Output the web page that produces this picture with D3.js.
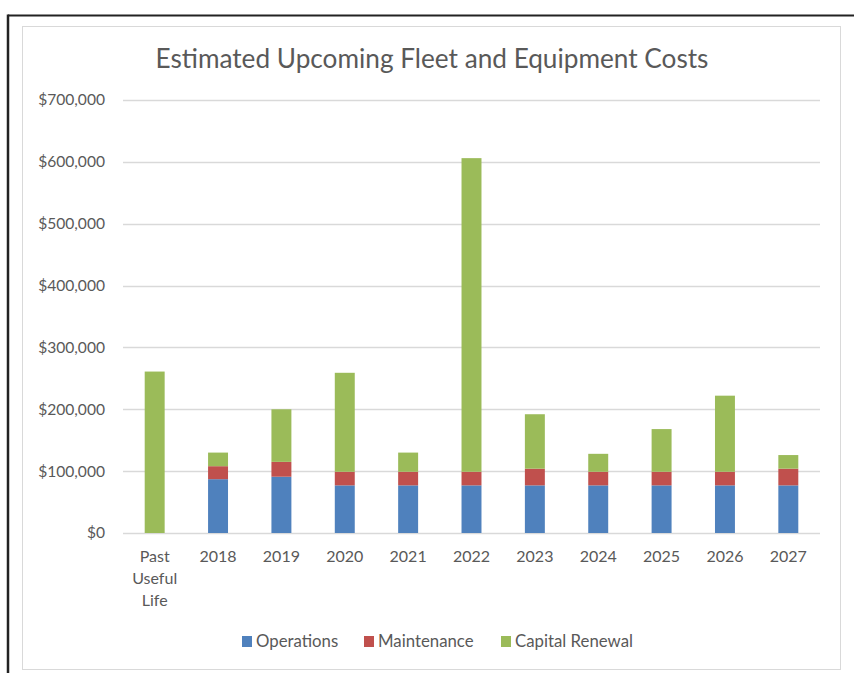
<!DOCTYPE html>
<html><head><meta charset="utf-8">
<script src="https://cdn.jsdelivr.net/npm/d3@7"></script>
<style>body{margin:0;background:#fff;}svg{display:block;}text{font-family:Lato,"Open Sans",sans-serif;}</style>
</head><body>
<script>
const categories = ["Past Useful Life","2018","2019","2020","2021","2022","2023","2024","2025","2026","2027"];
const operations = [0, 87000, 91000, 77000, 77000, 77000, 77000, 77000, 77000, 77000, 77000];
const maintenance = [0, 21000, 24000, 22000, 22000, 22000, 27000, 22000, 22000, 22000, 27000];
const capitalRenewal = [261000, 22000, 85000, 160000, 31000, 507000, 88000, 29000, 69000, 123000, 22000];
const seriesNames = ["Operations","Maintenance","Capital Renewal"];
const seriesColors = ["#4F81BD","#C0504D","#9BBB59"];
const yTicks = [0,100000,200000,300000,400000,500000,600000,700000];
const title = "Estimated Upcoming Fleet and Equipment Costs";

const W = 854, H = 673;
const svg = d3.select("body").append("svg").attr("width", W).attr("height", H);

// outer frame lines
svg.append("line").attr("x1",8).attr("x2",854).attr("y1",15.5).attr("y2",15.5).attr("stroke","#222").attr("stroke-width",2.2);
svg.append("line").attr("x1",8).attr("x2",8).attr("y1",14.5).attr("y2",673).attr("stroke","#222").attr("stroke-width",2.5);
// chart area border
svg.append("rect").attr("x",22.5).attr("y",26.5).attr("width",818).attr("height",643).attr("fill","#fff").attr("stroke","#D9D9D9").attr("stroke-width",1);

const plot = {left:123, right:820, top:100, bottom:533};
const x = d3.scaleBand().domain(categories).range([plot.left, plot.right]).paddingInner(0.685).paddingOuter(0.3425);
const y = d3.scaleLinear().domain([0,700000]).range([plot.bottom, plot.top]);

// gridlines
svg.append("g").selectAll("line").data(yTicks).join("line")
  .attr("x1",plot.left).attr("x2",plot.right)
  .attr("y1",d=>Math.round(y(d))+0.5).attr("y2",d=>Math.round(y(d))+0.5)
  .attr("stroke","#D9D9D9").attr("stroke-width",1.3);

// y labels
const fmt = d3.format("$,");
svg.append("g").selectAll("text").data(yTicks).join("text")
  .attr("x",105).attr("y",d=>y(d)).attr("dy","0.35em").attr("text-anchor","end")
  .attr("font-size",15.6).attr("fill","#595959").text(d=>fmt(d));

// stacked bars
const rows = categories.map((c,i)=>({cat:c, Operations:operations[i], Maintenance:maintenance[i], "Capital Renewal":capitalRenewal[i]}));
const stack = d3.stack().keys(seriesNames)(rows);
svg.append("g").selectAll("g").data(stack).join("g")
  .attr("fill",(d,i)=>seriesColors[i])
  .selectAll("rect").data(d=>d).join("rect")
  .attr("x",d=>x(d.data.cat)).attr("width",x.bandwidth())
  .attr("y",d=>y(d[1])).attr("height",d=>Math.max(0,y(d[0])-y(d[1])));

// x labels
const xl = svg.append("g");
categories.forEach(c=>{
  const words = c.split(" ");
  const t = xl.append("text").attr("x",x(c)+x.bandwidth()/2).attr("y",562).attr("text-anchor","middle")
    .attr("font-size",16).attr("fill","#595959");
  words.forEach((w,i)=>t.append("tspan").attr("x",x(c)+x.bandwidth()/2).attr("dy",i===0?0:22).text(w));
});

// title
svg.append("text").attr("x",432).attr("y",68).attr("text-anchor","middle")
  .attr("font-size",26.2).attr("fill","#595959").text(title);

// legend
const legendX = [242, 364, 501];
const lg = svg.append("g");
seriesNames.forEach((s,i)=>{
  lg.append("rect").attr("x",legendX[i]).attr("y",636).attr("width",10).attr("height",11).attr("fill",seriesColors[i]);
  lg.append("text").attr("x",legendX[i]+14).attr("y",641.5).attr("dy","0.35em").attr("font-size",16.8).attr("fill","#595959").text(s);
});
</script>
</body></html>
